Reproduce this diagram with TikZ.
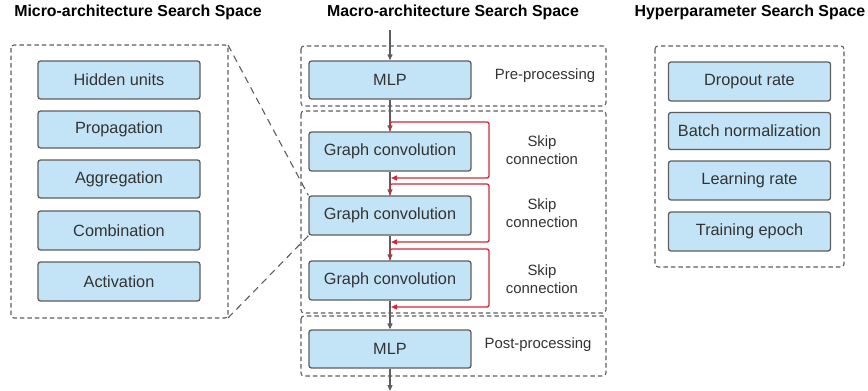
\documentclass[tikz,border=0pt]{standalone}
\usepackage{fontspec}
\setmainfont{Liberation Sans}
\usetikzlibrary{arrows.meta}
\definecolor{boxfill}{HTML}{C3E4F6}
\definecolor{boxline}{HTML}{5E5E5E}
\definecolor{txt}{HTML}{333333}
\definecolor{skipred}{HTML}{D42637}
\tikzset{
  blk/.style={draw=boxline, fill=boxfill, line width=1.3pt, rounded corners=2.5pt,
    inner sep=0pt, text=txt, font=\fontsize{16.3}{18}\selectfont},
  grp/.style={draw=boxline, line width=1.1pt, dash pattern=on 4.5pt off 3pt, rounded corners=3pt},
  zoomline/.style={draw=boxline, line width=1.1pt, dash pattern=on 7pt off 5pt},
  ttl/.style={font=\bfseries\fontsize{15.9}{18}\selectfont, text=black, inner sep=0pt},
  lbl/.style={font=\fontsize{14.9}{18}\selectfont, text=txt, align=center, inner sep=0pt},
  flow/.style={draw=boxline, line width=1.1pt, -{Triangle[length=6pt,width=5pt]}},
  skip/.style={draw=skipred, line width=1.3pt, rounded corners=2pt, -{Triangle[length=6pt,width=5pt]}},
}
\begin{document}
\begin{tikzpicture}[x=1pt,y=-1pt]
\useasboundingbox (0,0) rectangle (868,391);

% titles
\node[ttl] (t1) at (138,12) {Micro-architecture Search Space};
\node[ttl] (t2) at (453,12) {Macro-architecture Search Space};
\node[ttl] (t3) at (750,12) {Hyperparameter Search Space};

% group frames
\draw[grp] (11,45) rectangle (228,318);
\draw[grp] (301,46) rectangle (606,106);
\draw[grp] (301,111) rectangle (606,313);
\draw[grp] (301,316) rectangle (606,376);
\draw[grp] (655,46) rectangle (844,267);

% micro-architecture
\node[blk, minimum width=162pt, minimum height=38pt] (hu) at (119,80) {Hidden units};
\node[blk, minimum width=162pt, minimum height=37pt] (pr) at (119,129.5) {Propagation};
\node[blk, minimum width=162pt, minimum height=38pt] (ag) at (119,179) {Aggregation};
\node[blk, minimum width=162pt, minimum height=39pt] (cb) at (119,230.5) {Combination};
\node[blk, minimum width=162pt, minimum height=39pt] (ac) at (119,281.5) {Activation};

% macro-architecture
\coordinate (in) at (390,30);
\coordinate (out) at (390,391);
\node[blk, minimum width=162pt, minimum height=38pt] (mlp1) at (390,80) {MLP};
\node[blk, minimum width=162pt, minimum height=39pt] (gc1) at (390,151.5) {Graph convolution};
\node[blk, minimum width=162pt, minimum height=39pt] (gc2) at (390,215.5) {Graph convolution};
\node[blk, minimum width=162pt, minimum height=39pt] (gc3) at (390,280.5) {Graph convolution};
\node[blk, minimum width=162pt, minimum height=38pt] (mlp2) at (390,349) {MLP};

\node[lbl] (pre) at (545,76) {Pre-processing};
\node[lbl] (post) at (538,345) {Post-processing};
\node[lbl] (s1) at (542,150) {Skip\\connection};
\node[lbl] (s2) at (542,213) {Skip\\connection};
\node[lbl] (s3) at (542,279) {Skip\\connection};

\draw[flow] (in) -- (mlp1.north);
\draw[flow] (mlp1.south) -- (gc1.north);
\draw[flow] (gc1.south) -- (gc2.north);
\draw[flow] (gc2.south) -- (gc3.north);
\draw[flow] (gc3.south) -- (mlp2.north);
\draw[flow] (mlp2.south) -- (out);

% skip connections: leave each layer's input, rejoin below its output
\coordinate (b1) at (391,178);
\coordinate (b2) at (391,242);
\coordinate (b3) at (391,307);
\draw[skip] (gc1.north) -- (390,122) -- (489,122) -- (489,178) -- (b1);
\draw[skip] (gc2.north) -- (390,184) -- (489,184) -- (489,242) -- (b2);
\draw[skip] (gc3.north) -- (390,249) -- (489,249) -- (489,307) -- (b3);

% zoom lines from the micro frame to the middle layer
\draw[zoomline] (228,45) -- (gc2.north west);
\draw[zoomline] (228,318) -- (gc2.south west);

% hyperparameters
\node[blk, minimum width=162pt, minimum height=39pt] (dr) at (749.5,81.5) {Dropout rate};
\node[blk, minimum width=162pt, minimum height=37pt] (bn) at (749.5,131) {Batch normalization};
\node[blk, minimum width=162pt, minimum height=39pt] (lr) at (749.5,180.5) {Learning rate};
\node[blk, minimum width=162pt, minimum height=39pt] (te) at (749.5,231.5) {Training epoch};
\end{tikzpicture}
\end{document}
